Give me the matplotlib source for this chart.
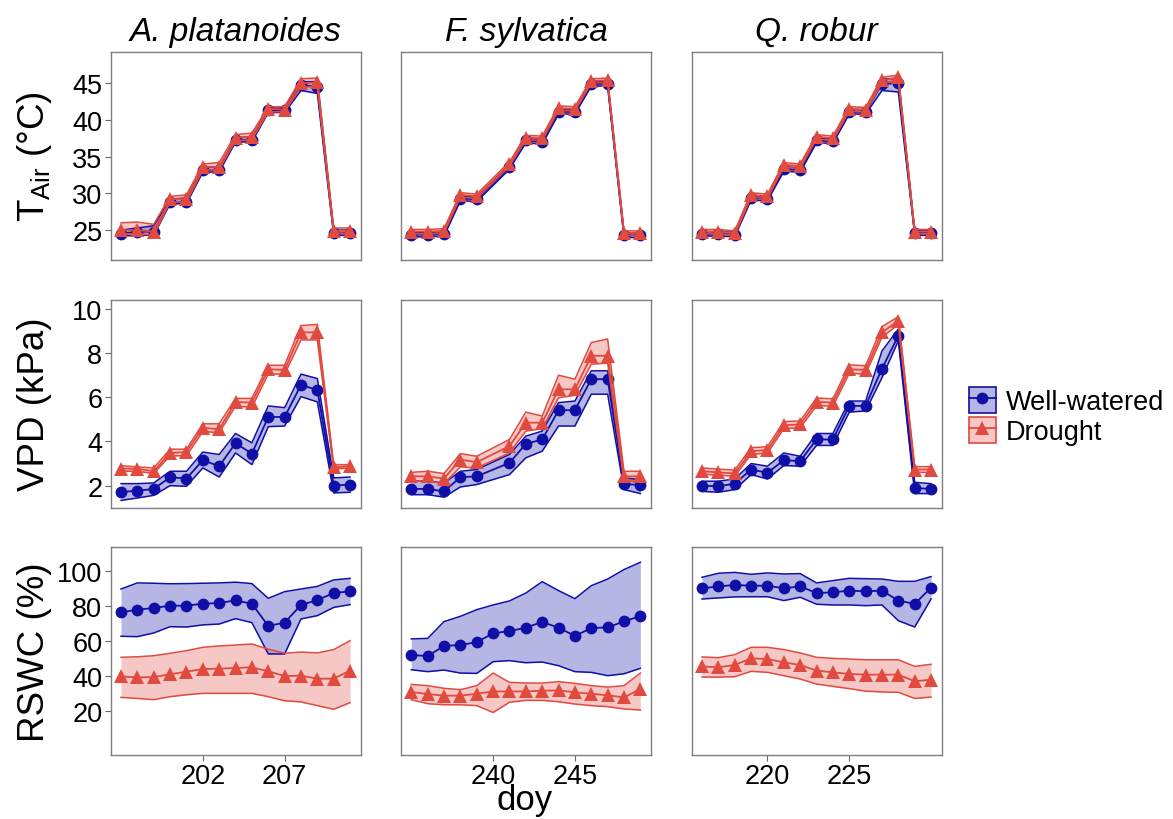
import numpy as np
import matplotlib.pyplot as plt
from matplotlib.lines import Line2D
from matplotlib.patches import Patch

plt.rcParams['font.family'] = ['Liberation Sans', 'DejaVu Sans']
plt.rcParams['mathtext.fontset'] = 'custom'
plt.rcParams['mathtext.rm'] = 'Liberation Sans'

nan = np.nan

# --- facets ---
species = ["A. platanoides", "F. sylvatica", "Q. robur"]
doy_first = [197, 235, 216]
n_days = 15
doy_ticks = [[202, 207], [240, 245], [220, 225]]

# each variable: one list per species (A. platanoides, F. sylvatica, Q. robur)
tair_ww = [
    [24.5, 24.8, 24.8, 28.8, 28.8, 33.2, 33.2, 37.3, 37.3, 41.3, 41.3, 44.7, 44.5, 24.6, 24.6],
    [24.4, 24.4, 24.5, 29.3, 29.2, nan, 33.6, 37.2, 37.0, 41.1, 41.1, 44.9, 44.9, 24.3, 24.3],
    [24.5, 24.5, 24.4, 29.4, 29.3, 33.3, 33.2, 37.2, 37.1, 41.1, 41.1, 44.9, 45.0, 24.6, 24.6],
]
tair_ww_lo = [
    [24.2, 24.3, 24.3, 28.6, 28.6, 32.9, 32.9, 37.0, 37.0, 41.0, 41.0, 44.0, 43.6, 24.3, 24.3],
    [24.1, 24.1, 24.2, 29.0, 28.9, nan, 33.3, 36.9, 36.7, 40.8, 40.8, 44.6, 44.6, 24.0, 24.0],
    [24.2, 24.2, 24.1, 29.1, 29.0, 33.0, 32.9, 36.9, 36.8, 40.8, 40.8, 44.0, 43.8, 24.3, 24.3],
]
tair_ww_hi = [
    [25.0, 25.3, 25.6, 29.2, 29.4, 33.6, 33.6, 37.6, 37.7, 41.6, 41.6, 45.2, 45.2, 25.0, 25.0],
    [24.7, 24.7, 24.8, 29.6, 29.5, nan, 33.9, 37.5, 37.3, 41.4, 41.4, 45.2, 45.2, 24.6, 24.6],
    [24.8, 24.8, 24.7, 29.7, 29.6, 33.6, 33.5, 37.5, 37.4, 41.4, 41.4, 45.6, 45.6, 24.9, 24.9],
]
tair_dr = [
    [25.0, 25.0, 24.8, 29.2, 29.3, 33.6, 33.6, 37.6, 37.7, 41.5, 41.4, 45.0, 45.1, 24.9, 24.9],
    [24.8, 24.8, 24.9, 29.8, 29.6, nan, 34.0, 37.6, 37.5, 41.6, 41.5, 45.3, 45.4, 24.6, 24.6],
    [24.8, 24.8, 24.6, 29.8, 29.6, 33.9, 33.7, 37.7, 37.5, 41.5, 41.4, 45.4, 45.8, 24.8, 24.8],
]
tair_dr_lo = [
    [24.5, 24.5, 24.3, 28.8, 28.8, 33.2, 33.2, 37.2, 37.3, 41.1, 41.1, 44.5, 44.5, 24.6, 24.6],
    [24.5, 24.5, 24.6, 29.5, 29.3, nan, 33.7, 37.3, 37.2, 41.3, 41.2, 45.0, 45.1, 24.3, 24.3],
    [24.5, 24.5, 24.3, 29.5, 29.3, 33.6, 33.4, 37.4, 37.2, 41.2, 41.1, 45.0, 45.4, 24.5, 24.5],
]
tair_dr_hi = [
    [26.0, 26.1, 25.8, 29.6, 29.8, 34.0, 34.2, 38.0, 38.2, 41.8, 41.8, 45.6, 45.7, 25.3, 25.3],
    [25.1, 25.1, 25.2, 30.1, 29.9, nan, 34.3, 37.9, 37.8, 41.9, 41.8, 45.6, 45.7, 24.9, 24.9],
    [25.1, 25.1, 24.9, 30.1, 29.9, 34.2, 34.0, 38.0, 37.8, 41.8, 41.7, 45.8, 46.1, 25.1, 25.1],
]

vpd_ww = [
    [1.71, 1.77, 1.85, 2.38, 2.32, 3.15, 2.88, 3.92, 3.45, 5.11, 5.11, 6.56, 6.33, 2.00, 2.05],
    [1.85, 1.85, 1.74, 2.38, 2.42, nan, 3.03, 3.89, 4.09, 5.41, 5.42, 6.82, 6.82, 2.08, 2.02],
    [2.00, 1.97, 2.09, 2.73, 2.58, 3.15, 3.11, 4.09, 4.09, 5.61, 5.61, 7.30, 8.79, 1.89, 1.85],
]
vpd_ww_lo = [
    [1.33, 1.44, 1.56, 2.00, 1.97, 2.80, 2.39, 3.48, 2.95, 4.67, 4.70, 6.03, 5.79, 1.67, 1.70],
    [1.59, 1.59, 1.48, 1.94, 2.05, nan, 2.50, 3.26, 3.56, 4.70, 4.70, 6.14, 6.14, 1.82, 1.64],
    [1.74, 1.70, 1.82, 2.50, 2.30, 2.91, 2.88, 3.82, 3.82, 5.33, 5.38, 6.89, 8.56, 1.64, 1.64],
]
vpd_ww_hi = [
    [2.09, 2.09, 2.12, 2.65, 2.65, 3.52, 3.41, 4.36, 3.94, 5.61, 5.53, 7.05, 6.85, 2.35, 2.39],
    [2.20, 2.20, 2.12, 2.65, 2.73, nan, 3.41, 4.24, 4.47, 5.76, 5.83, 7.20, 7.20, 2.35, 2.27],
    [2.20, 2.20, 2.30, 3.00, 2.88, 3.48, 3.33, 4.36, 4.36, 5.83, 5.83, 8.10, 9.09, 2.15, 2.09],
]
vpd_dr = [
    [2.77, 2.76, 2.65, 3.48, 3.52, 4.62, 4.55, 5.79, 5.76, 7.27, 7.24, 8.94, 8.94, 2.83, 2.88],
    [2.42, 2.42, 2.32, 3.18, 3.06, nan, 3.79, 4.85, 4.85, 6.36, 6.36, 7.88, 7.88, 2.42, 2.42],
    [2.65, 2.60, 2.55, 3.56, 3.61, 4.73, 4.77, 5.79, 5.76, 7.27, 7.24, 8.94, 9.47, 2.73, 2.73],
]
vpd_dr_lo = [
    [2.65, 2.65, 2.55, 3.35, 3.35, 4.45, 4.40, 5.60, 5.55, 7.05, 7.05, 8.60, 8.60, 2.75, 2.80],
    [2.20, 2.20, 2.09, 2.85, 2.80, nan, 3.48, 4.47, 4.58, 5.98, 6.09, 7.50, 7.55, 2.20, 2.20],
    [2.52, 2.48, 2.42, 3.42, 3.47, 4.58, 4.62, 5.62, 5.60, 7.08, 7.06, 8.72, 9.30, 2.60, 2.60],
]
vpd_dr_hi = [
    [2.90, 2.85, 2.80, 3.65, 3.65, 4.80, 4.80, 5.95, 5.95, 7.45, 7.45, 9.25, 9.30, 2.95, 2.95],
    [2.60, 2.65, 2.55, 3.45, 3.33, nan, 4.09, 5.33, 5.15, 7.00, 6.82, 8.48, 8.64, 2.65, 2.65],
    [2.80, 2.75, 2.70, 3.72, 3.76, 4.90, 4.93, 5.97, 5.93, 7.47, 7.43, 9.20, 9.65, 2.86, 2.86],
]

rswc_ww = [
    [76.2, 77.7, 78.7, 80.0, 80.0, 81.1, 81.5, 83.0, 81.1, 68.4, 70.3, 80.4, 83.2, 87.2, 88.2],
    [51.8, 51.2, 57.0, 57.5, 59.2, 64.2, 65.5, 67.4, 70.7, 67.4, 62.7, 67.2, 67.6, 71.0, 74.1],
    [89.9, 91.0, 91.8, 91.4, 91.4, 89.9, 91.0, 87.2, 87.6, 88.6, 88.2, 88.6, 82.9, 81.0, 90.3],
]
rswc_ww_lo = [
    [62.5, 62.3, 64.4, 68.0, 67.8, 69.0, 69.5, 72.6, 70.3, 52.4, 52.4, 72.4, 74.3, 79.0, 80.6],
    [43.4, 42.3, 43.2, 41.5, 41.3, 48.0, 48.6, 47.4, 47.8, 45.7, 42.3, 41.9, 40.0, 41.1, 44.2],
    [83.8, 84.4, 85.0, 85.1, 85.1, 82.9, 84.8, 80.8, 80.4, 80.4, 80.0, 80.4, 71.4, 67.8, 83.8],
]
rswc_ww_hi = [
    [89.5, 93.0, 92.8, 92.5, 92.6, 92.8, 93.0, 93.4, 92.6, 84.2, 88.0, 89.5, 91.0, 94.7, 95.6],
    [61.0, 61.3, 70.9, 73.9, 77.7, 80.4, 82.7, 87.2, 93.7, 88.6, 84.0, 91.4, 95.2, 100.6, 104.8],
    [96.2, 98.5, 99.0, 97.9, 98.7, 98.1, 98.3, 93.0, 94.3, 95.6, 95.4, 95.2, 93.9, 93.9, 96.6],
]
rswc_dr = [
    [39.6, 39.0, 39.2, 40.8, 42.3, 43.8, 44.0, 44.4, 44.8, 42.5, 39.8, 40.0, 38.3, 38.3, 42.9],
    [30.7, 29.5, 28.6, 28.6, 29.7, 31.0, 31.0, 31.0, 31.4, 31.6, 30.5, 29.7, 28.8, 27.6, 32.4],
    [45.3, 44.8, 46.1, 49.9, 49.5, 47.6, 46.1, 42.9, 41.9, 41.0, 40.6, 40.6, 40.6, 36.8, 37.7],
]
rswc_dr_lo = [
    [27.6, 27.0, 26.3, 28.0, 29.1, 29.9, 29.9, 29.9, 29.9, 28.0, 25.7, 25.0, 22.9, 20.8, 24.6],
    [26.3, 24.0, 23.4, 23.4, 22.9, 19.0, 24.8, 25.9, 25.9, 25.1, 23.8, 22.9, 22.3, 21.0, 20.4],
    [39.2, 39.2, 39.4, 42.5, 41.9, 40.0, 38.1, 35.2, 33.9, 32.6, 31.2, 30.7, 30.5, 27.0, 27.8],
]
rswc_dr_hi = [
    [50.5, 50.8, 51.4, 52.8, 54.3, 56.2, 57.0, 57.5, 58.1, 55.2, 52.8, 53.5, 53.0, 54.9, 60.0],
    [35.0, 34.3, 32.8, 32.0, 34.3, 41.5, 36.2, 35.8, 35.8, 36.6, 35.6, 34.3, 33.5, 34.3, 41.5],
    [50.7, 50.3, 52.0, 56.2, 56.2, 54.9, 53.0, 50.5, 49.9, 49.5, 49.1, 49.1, 49.1, 45.3, 46.5],
]

row_labels = [r"T$_{\rm Air}$ (°C)", "VPD (kPa)", "RSWC (%)"]
row_ticks = [[25, 30, 35, 40, 45], [2, 4, 6, 8, 10], [20, 40, 60, 80, 100]]
row_lims = [(20.9, 49.2), (1.0, 10.42), (-5.3, 113.5)]

rows = [
    (tair_ww, tair_ww_lo, tair_ww_hi, tair_dr, tair_dr_lo, tair_dr_hi),
    (vpd_ww, vpd_ww_lo, vpd_ww_hi, vpd_dr, vpd_dr_lo, vpd_dr_hi),
    (rswc_ww, rswc_ww_lo, rswc_ww_hi, rswc_dr, rswc_dr_lo, rswc_dr_hi),
]

WW_COL = "#1010A6"
DR_COL = "#E04A3F"

W, H = 1173, 820
fig = plt.figure(figsize=(W / 100, H / 100), dpi=100)

col_left = [110.7, 401.0, 691.7]
row_top = [53.3, 300.7, 548.0]
pw, ph = 250.0, 208.0


def draw(ax, x, mean, lo, hi, color, marker, ms):
    x = np.asarray(x, float)
    mean, lo, hi = (np.asarray(v, float) for v in (mean, lo, hi))
    ok = ~np.isnan(mean)
    x, mean, lo, hi = x[ok], mean[ok], lo[ok], hi[ok]
    ax.fill_between(x, lo, hi, color=color, alpha=0.3, linewidth=0)
    ax.plot(x, lo, color=color, lw=1.1)
    ax.plot(x, hi, color=color, lw=1.1)
    ax.plot(x, mean, color=color, lw=1.3, marker=marker, ms=ms,
            markeredgewidth=0, markerfacecolor=color)


for r in range(3):
    ww, ww_lo, ww_hi, dr, dr_lo, dr_hi = rows[r]
    for c in range(3):
        ax = fig.add_axes([col_left[c] / W, 1 - (row_top[r] + ph) / H, pw / W, ph / H])
        days = np.arange(doy_first[c], doy_first[c] + n_days)
        draw(ax, days, ww[c], ww_lo[c], ww_hi[c], WW_COL, "o", 8.5)
        draw(ax, days, dr[c], dr_lo[c], dr_hi[c], DR_COL, "^", 10)

        ax.set_xlim(doy_first[c] - 0.63, doy_first[c] + n_days - 1 + 0.65)
        ax.set_ylim(*row_lims[r])
        ax.set_xticks(doy_ticks[c])
        ax.set_yticks(row_ticks[r])
        for s in ax.spines.values():
            s.set_color("#7f7f7f")
            s.set_linewidth(1.0)
        ax.tick_params(labelsize=19.5, length=4, width=0.8, color="#666666", pad=2)
        if r < 2:
            ax.tick_params(axis="x", length=0, labelbottom=False)
        if c > 0:
            ax.tick_params(axis="y", length=0, labelleft=False)
        if r == 0:
            ax.set_title(species[c], fontsize=24, style="italic", pad=9)

row_mid = [157, 404, 652]
for r in range(3):
    fig.text(35 / W, 1 - row_mid[r] / H, row_labels[r], rotation=90,
             ha="center", va="center", fontsize=26.5)
fig.text(525 / W, 1 - 810 / H, "doy", ha="center", va="baseline", fontsize=25)

handles = [
    (Patch(facecolor=WW_COL, alpha=0.3, edgecolor="none"),
     Patch(facecolor="none", edgecolor=WW_COL, linewidth=1.2),
     Line2D([], [], color=WW_COL, lw=1.3, marker="o", ms=8.5, markeredgewidth=0)),
    (Patch(facecolor=DR_COL, alpha=0.3, edgecolor="none"),
     Patch(facecolor="none", edgecolor=DR_COL, linewidth=1.2),
     Line2D([], [], color=DR_COL, lw=1.3, marker="^", ms=10, markeredgewidth=0)),
]
fig.legend(handles, ["Well-watered", "Drought"], loc="center left",
           bbox_to_anchor=(958 / W, 1 - 417 / H), frameon=False, fontsize=19.5,
           handlelength=1.0, handleheight=1.1, labelspacing=0.05,
           handletextpad=0.35, borderaxespad=0)

fig.savefig("out.png", dpi=100)
